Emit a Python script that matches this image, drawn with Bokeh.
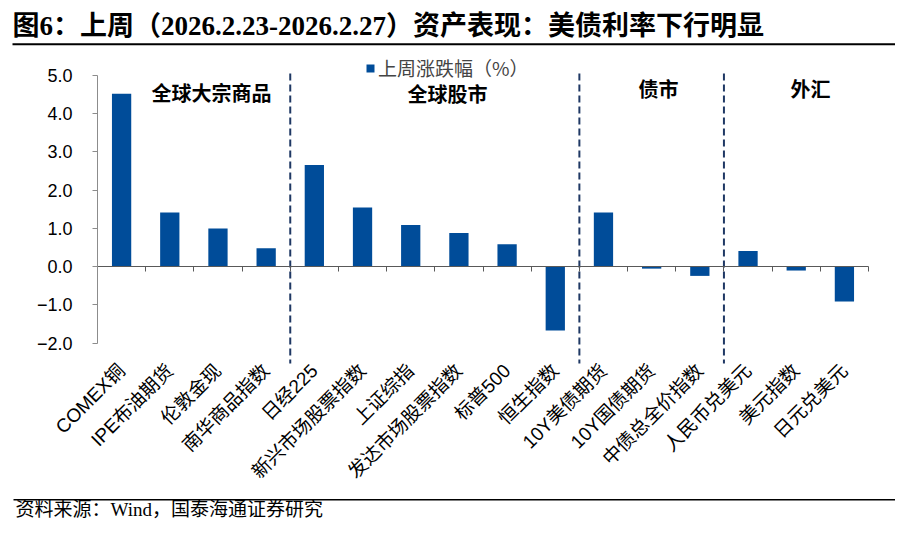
import math
from bokeh.plotting import figure
from bokeh.models import (Range1d, LinearAxis, FixedTicker, Label, BoxAnnotation,
                          ColumnDataSource)
from bokeh.core.properties import value
from bokeh.embed import file_html
from bokeh.resources import INLINE

# ---------------- data ----------------
categories = ["COMEX铜", "IPE布油期货", "伦敦金现", "南华商品指数",
              "日经225", "新兴市场股票指数", "上证综指", "发达市场股票指数", "标普500", "恒生指数",
              "10Y美债期货", "10Y国债期货", "中债总全价指数",
              "人民币兑美元", "美元指数", "日元兑美元"]
weekly_change = [4.52, 1.42, 1.00, 0.48,
                 2.66, 1.55, 1.09, 0.88, 0.59, -1.67,
                 1.42, -0.05, -0.24,
                 0.41, -0.10, -0.91]
groups = ["全球大宗商品", "全球股市", "债市", "外汇"]
group_sizes = [4, 6, 3, 3]
y_ticks = [-2, -1, 0, 1, 2, 3, 4, 5]
title_text = "图6：上周（2026.2.23-2026.2.27）资产表现：美债利率下行明显"
source_text = "资料来源：Wind，国泰海通证券研究"
legend_text = "上周涨跌幅（%）"

# ---------------- layout (pixel geometry of the reference) ----------------
W, H = 895, 520
def cx(ref_x): return ref_x
def cy(ref_y): return ref_y

n = len(categories)
X_LEFT_PX, X_RIGHT_PX = cx(97), cx(868)
Y_TOP_PX, Y_BOT_PX = cy(75), cy(342.7)
px_per_x = (X_RIGHT_PX - X_LEFT_PX) / n
px_per_y = (Y_BOT_PX - Y_TOP_PX) / (max(y_ticks) - min(y_ticks))
x_start = -X_LEFT_PX / px_per_x
x_end = n + (W - X_RIGHT_PX) / px_per_x
y_end = max(y_ticks) + Y_TOP_PX / px_per_y
y_start = min(y_ticks) - (H - Y_BOT_PX) / px_per_y

def data_x(ref_x): return (cx(ref_x) - X_LEFT_PX) / px_per_x
def data_y(ref_y): return max(y_ticks) - (cy(ref_y) - Y_TOP_PX) / px_per_y
def scr_x(ref_x): return cx(ref_x)
def scr_y(ref_y): return H - cy(ref_y)

BAR_COLOR = "#004C99"
DIV_COLOR = "#1F3864"
CJK = "Noto Sans CJK SC"
SANS_CJK = "Liberation Sans, Noto Sans CJK SC"
SERIF_CJK = "Liberation Serif, Noto Sans CJK SC"

group_label_ref_x = [211, 447, 658, 810]
group_label_ref_y = [92, 93, 88, 88]

# ---------------- figure ----------------
p = figure(width=W, height=H, x_range=Range1d(x_start, x_end), y_range=Range1d(y_start, y_end),
           output_backend="svg", toolbar_location=None, tools="", title=None, min_border=0)
p.outline_line_color = None
p.grid.visible = False
p.background_fill_color = "white"
p.border_fill_color = "white"

# y axis at x = 0
yax = p.left[0]
yax.fixed_location = 0
yax.bounds = (min(y_ticks), max(y_ticks))
yax.ticker = FixedTicker(ticks=y_ticks)
yax.major_label_overrides = {t: f"{t:.1f}".replace("-", "\u2212") for t in y_ticks}
yax.axis_line_color = "#8C8C8C"
yax.major_tick_line_color = "#8C8C8C"
yax.major_tick_out = 5
yax.major_tick_in = 0
yax.minor_tick_line_color = None
yax.major_label_text_font = "Liberation Sans"
yax.major_label_text_font_size = "18px"
yax.major_label_text_color = "black"
yax.major_label_standoff = 20

# zero line axis with boundary ticks
zax = p.below[0]
zax.fixed_location = 0
zax.bounds = (0, n)
zax.ticker = FixedTicker(ticks=list(range(n + 1)))
zax.major_label_overrides = {i: "" for i in range(n + 1)}
zax.axis_line_color = "#595959"
zax.major_tick_line_color = "#595959"
zax.major_tick_out = 5
zax.major_tick_in = 0
zax.minor_tick_line_color = None

# category label axis
cat_axis = LinearAxis(fixed_location=data_y(357),
                      ticker=FixedTicker(ticks=[i + 0.5 for i in range(n)]),
                      major_label_overrides={i + 0.5: c for i, c in enumerate(categories)},
                      major_label_orientation=math.pi / 4,
                      axis_line_color=None, major_tick_line_color=None, minor_tick_line_color=None,
                      major_tick_out=0, major_tick_in=0, major_label_standoff=10,
                      major_label_text_font=SANS_CJK, major_label_text_font_size="19px",
                      major_label_text_color="black")
p.add_layout(cat_axis, "below")

# bars
src = ColumnDataSource(dict(x=[i + 0.5 for i in range(n)], top=weekly_change, cat=categories))
p.vbar(x="x", top="top", width=0.4, source=src, fill_color=BAR_COLOR, line_color=None,
       legend_label=legend_text)

# group dividers
bounds = []
acc = 0
for s in group_sizes[:-1]:
    acc += s
    bounds.append(acc)
p.segment(x0=bounds, x1=bounds, y0=[data_y(73)] * len(bounds), y1=[data_y(363)] * len(bounds),
          line_color=DIV_COLOR, line_width=2, line_dash="7 4")

# group labels
p.text(x=[data_x(v) for v in group_label_ref_x], y=[data_y(v) for v in group_label_ref_y], text=groups,
       text_align="center", text_baseline="middle", text_font=value(CJK),
       text_font_size="20px", text_font_style="bold", text_color="black")

# legend
leg = p.legend[0]
leg.location = (scr_x(365), scr_y(81))
leg.orientation = "horizontal"
leg.glyph_width = 10
leg.glyph_height = 10
leg.label_text_font = CJK
leg.label_text_font_size = "19px"
leg.label_standoff = 3
leg.border_line_color = None
leg.background_fill_alpha = 0
leg.padding = 0
leg.margin = 0

# title, rules, source
p.add_layout(Label(x=scr_x(12), y=scr_y(25), x_units="screen", y_units="screen", text=title_text,
                   text_font=SERIF_CJK, text_font_size="27px", text_font_style="bold",
                   text_baseline="middle", text_color="black"))
p.add_layout(BoxAnnotation(left=scr_x(12), right=scr_x(895), top=scr_y(42.8), bottom=scr_y(44.8),
                           left_units="screen", right_units="screen", top_units="screen", bottom_units="screen",
                           fill_color="black", fill_alpha=1, line_color=None))
p.add_layout(BoxAnnotation(left=scr_x(13), right=scr_x(895), top=scr_y(498.6), bottom=scr_y(500.1),
                           left_units="screen", right_units="screen", top_units="screen", bottom_units="screen",
                           fill_color="black", fill_alpha=1, line_color=None))
p.add_layout(Label(x=scr_x(15), y=scr_y(509), x_units="screen", y_units="screen", text=source_text,
                   text_font=SERIF_CJK, text_font_size="19px",
                   text_baseline="middle", text_color="black"))

open("out.html", "w").write(file_html(p, INLINE))
